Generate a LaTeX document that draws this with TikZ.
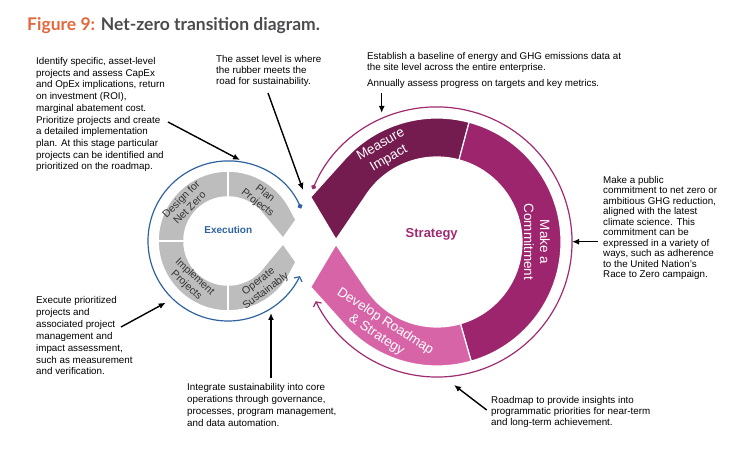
\documentclass[tikz,border=0pt]{standalone}
\usepackage{xcolor}
\usepackage{fontspec}
\setmainfont{Liberation Sans}
\newfontfamily\titlefont{Lato}
\usepackage{tikz}
\usetikzlibrary{arrows.meta,positioning}

\definecolor{figorange}{HTML}{E2683C}
\definecolor{figgray}{HTML}{4B4B4D}
\definecolor{impactplum}{HTML}{741B50}
\definecolor{commitplum}{HTML}{9D256E}
\definecolor{roadmappink}{HTML}{D864A8}
\definecolor{strategyline}{HTML}{A02A70}
\definecolor{execgray}{HTML}{BDBDBD}
\definecolor{execblue}{HTML}{2E62A0}

\tikzset{
  note/.style={anchor=north west, align=left, inner sep=0pt, text=black}
}

\begin{document}
\begin{tikzpicture}[
        x=1pt, y=1pt,
        ringtext/.style={align=center, inner sep=0pt, text=white, font=\fontsize{13.5}{16}\selectfont},
        graytext/.style={align=center, inner sep=0pt, text=black!80, font=\fontsize{10.5}{12}\selectfont},
        pointer/.style={-{Latex[length=7pt,width=6pt]}, line width=1.4pt},
        cycleline/.style={line width=1.2pt, {Circle[length=5pt]}-{Straight Barb[length=3.5pt,width=9pt]}},
        strategyseg/.style={draw=white, line width=1.2pt},
        execseg/.style={fill=execgray, draw=white, line width=1.6pt}
    ]
        \useasboundingbox (0,0) rectangle (750,450);

        % Title
        \node[anchor=base west, inner sep=0pt, font=\titlefont\bfseries\fontsize{17.5}{20}\selectfont] (title) at (27,419.3)
            {\textcolor{figorange}{Figure 9:} \textcolor{figgray}{Net-zero transition diagram.}};

        % Ring centres
        \coordinate (cs) at (437,208);
        \coordinate (ce) at (228,209);

        % Strategy ring
        \path[strategyseg, fill=impactplum] (310.7,253) -- ([shift={(138:124pt)}]cs) arc[start angle=138, end angle=75, radius=124pt]
            -- ([shift={(75:85pt)}]cs) arc[start angle=75, end angle=147.3, radius=85pt] -- (336,210.5) -- cycle;
        \path[strategyseg, fill=commitplum] ([shift={(75:124pt)}]cs) arc[start angle=75, end angle=-74, radius=124pt]
            -- ([shift={(-74:85pt)}]cs) arc[start angle=-74, end angle=75, radius=85pt] -- cycle;
        \path[strategyseg, fill=roadmappink] ([shift={(-74:124pt)}]cs) arc[start angle=-74, end angle=-138, radius=124pt]
            -- (310.7,163) -- (336,205.5) -- ([shift={(212.7:85pt)}]cs) arc[start angle=212.7, end angle=286, radius=85pt] -- cycle;

        % Execution ring
        \path[execseg] ([shift={(90:70pt)}]ce) arc[start angle=90, end angle=180, radius=70pt]
            -- ([shift={(180:44pt)}]ce) arc[start angle=180, end angle=90, radius=44pt] -- cycle;
        \path[execseg] ([shift={(180:70pt)}]ce) arc[start angle=180, end angle=270, radius=70pt]
            -- ([shift={(270:44pt)}]ce) arc[start angle=270, end angle=180, radius=44pt] -- cycle;
        \path[execseg] ([shift={(90:70pt)}]ce) arc[start angle=90, end angle=28, radius=70pt]
            -- (296.1,230) -- (283,211.5) -- ([shift={(36.9:44pt)}]ce) arc[start angle=36.9, end angle=90, radius=44pt] -- cycle;
        \path[execseg] ([shift={(-90:70pt)}]ce) arc[start angle=-90, end angle=-28, radius=70pt]
            -- (296.1,188) -- (283,206.5) -- ([shift={(-36.9:44pt)}]ce) arc[start angle=-36.9, end angle=-90, radius=44pt] -- cycle;

        % Cycle arrows
        \draw[cycleline, execblue] ([shift={(24:80pt)}]ce) arc[start angle=24, end angle=334, radius=80pt];
        \draw[cycleline, strategyline] ([shift={(157:135pt)}]cs) arc[start angle=157, end angle=-154, radius=135pt];

        % Ring labels
        \node[ringtext, rotate=30] (impact) at ([shift={(120:104pt)}]cs) {Measure\\Impact};
        \node[ringtext, rotate=-90] (commit) at ([shift={(0:100pt)}]cs) {Make a\\Commitment};
        \node[ringtext, rotate=-33] (roadmap) at ([shift={(237:103pt)}]cs) {Develop Roadmap\\\& Strategy};
        \node[font=\bfseries\fontsize{13}{15}\selectfont, text=strategyline] (strategy) at (431.7,216) {Strategy};

        \node[graytext, rotate=45] (design) at ([shift={(138.7:57pt)}]ce) {Design for\\Net Zero};
        \node[graytext, rotate=-38] (plan) at ([shift={(52:54pt)}]ce) {Plan\\Projects};
        \node[graytext, rotate=-43] (implement) at ([shift={(227:55pt)}]ce) {Implement\\Projects};
        \node[graytext, rotate=37] (operate) at ([shift={(307:57pt)}]ce) {Operate\\Sustainably};
        \node[font=\bfseries\fontsize{10}{12}\selectfont, text=execblue] (execution) at (228.3,220) {Execution};

        % Notes
        \node[note, font=\fontsize{9.8}{11.7}\selectfont] (designnote) at (36,392.7)
            {Identify specific, asset-level\\projects and assess CapEx\\and OpEx implications, return\\on investment (ROI),\\marginal abatement cost.\\Prioritize projects and create\\a detailed implementation\\plan. At this stage particular\\projects can be identified and\\prioritized on the roadmap.};
        \node[note, font=\fontsize{9.8}{11.3}\selectfont] (assetnote) at (216,395)
            {The asset level is where\\the rubber meets the\\road for sustainability.};
        \node[note, font=\fontsize{9.8}{11}\selectfont] (measurenote) at (367,397.3)
            {Establish a baseline of energy and GHG emissions data at\\the site level across the entire enterprise.\\[4.5pt]Annually assess progress on targets and key metrics.};
        \node[note, font=\fontsize{9.8}{10.5}\selectfont] (commitnote) at (603,274)
            {Make a public\\commitment to net zero or\\ambitious GHG reduction,\\aligned with the latest\\climate science. This\\commitment can be\\expressed in a variety of\\ways, such as adherence\\to the United Nation's\\Race to Zero campaign.};
        \node[note, font=\fontsize{9.8}{11.8}\selectfont] (implementnote) at (36,153.3)
            {Execute prioritized\\projects and\\associated project\\management and\\impact assessment,\\such as measurement\\and verification.};
        \node[note, font=\fontsize{9.8}{12}\selectfont] (operatenote) at (187,67.3)
            {Integrate sustainability into core\\operations through governance,\\processes, program management,\\and data automation.};
        \node[note, font=\fontsize{9.8}{11.3}\selectfont] (roadmapnote) at (491,54.3)
            {Roadmap to provide insights into\\programmatic priorities for near-term\\and long-term achievement.};

        % Pointers
        \coordinate (p1s) at (168,328);   \coordinate (p1e) at (240,290);
        \coordinate (p2s) at (268,357);   \coordinate (p2e) at (303,260);
        \coordinate (p3s) at (381.7,357); \coordinate (p3e) at (381.7,337);
        \coordinate (p4s) at (598,208.3); \coordinate (p4e) at (572,208.3);
        \coordinate (p5s) at (121,123);   \coordinate (p5e) at (165.7,147.3);
        \coordinate (p6s) at (271,72);    \coordinate (p6e) at (271,137);
        \coordinate (p7s) at (486.7,40);  \coordinate (p7e) at (454,65);
        \draw[pointer] (p1s) -- (p1e);
        \draw[pointer] (p2s) -- (p2e);
        \draw[pointer] (p3s) -- (p3e);
        \draw[pointer] (p4s) -- (p4e);
        \draw[pointer] (p5s) -- (p5e);
        \draw[pointer] (p6s) -- (p6e);
        \draw[pointer] (p7s) -- (p7e);
    \end{tikzpicture}
\end{document}
